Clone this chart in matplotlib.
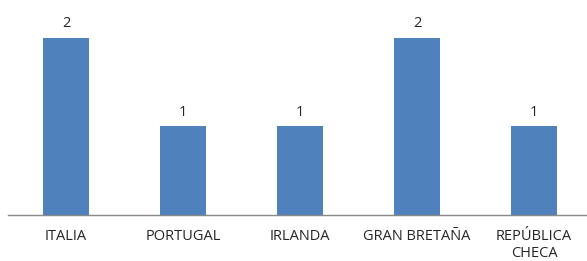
import matplotlib.pyplot as plt
import numpy as np

# Data
paises = ["ITALIA", "PORTUGAL", "IRLANDA", "GRAN BRETAÑA", "REPÚBLICA\nCHECA"]
valores = [2, 1, 1, 2, 1]

plt.rcParams['font.family'] = ['Open Sans', 'DejaVu Sans']

fig = plt.figure(figsize=(5.87, 2.61), dpi=100)
W, H = 587, 261
# axes spans from x=7.5 px, baseline at y=215 px, 88.5 px per unit
ax = fig.add_axes([7.5 / W, 1 - 215 / H, 585 / W, 88.5 * 2.3 / H])

x = np.arange(len(paises))
bars = ax.bar(x, valores, width=0.4, color='#4F81BD')

for b, v in zip(bars, valores):
    ax.annotate(str(v), (b.get_x() + b.get_width() / 2, v), xytext=(0, 5),
                textcoords='offset points', ha='center', va='bottom',
                fontsize=10.5, color='#262626')

ax.set_xlim(-0.5, len(paises) - 0.5)
ax.set_ylim(0, 2.3)
ax.set_yticks([])
ax.set_xticks(x)
ax.set_xticklabels(paises, fontsize=10.5, color='#262626', linespacing=1.2)
ax.tick_params(axis='x', length=0, pad=10)
for s in ['top', 'right', 'left']:
    ax.spines[s].set_visible(False)
ax.spines['bottom'].set_color('#898989')
ax.spines['bottom'].set_linewidth(1)

plt.savefig('out.png', dpi=100)
